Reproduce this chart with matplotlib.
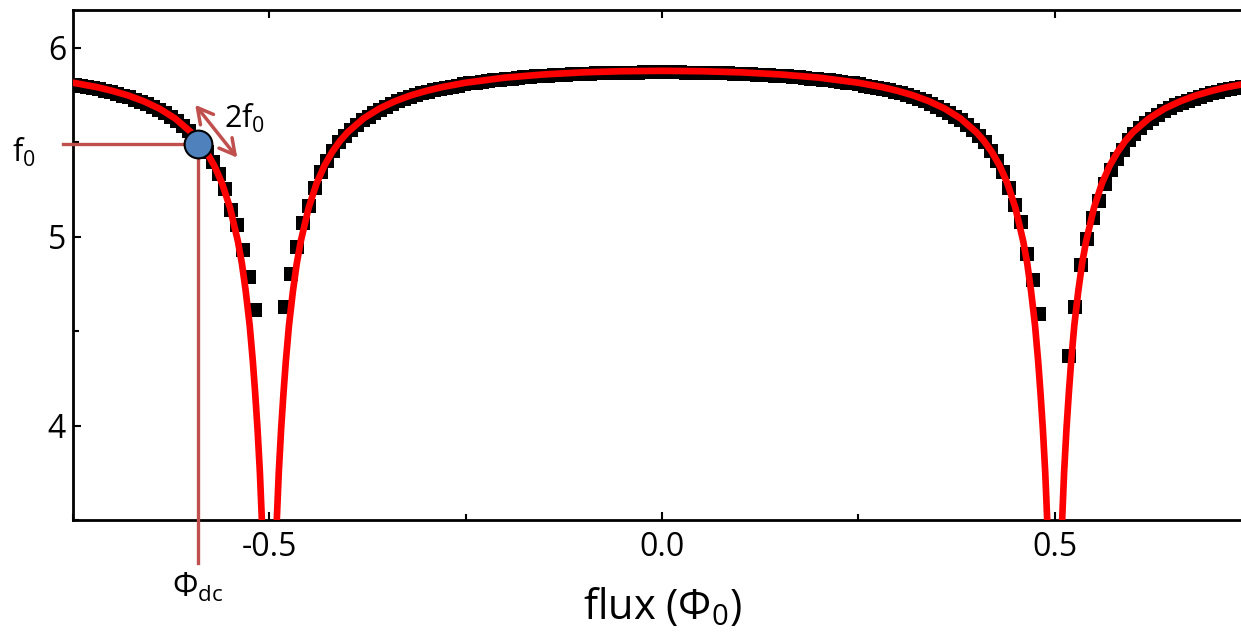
import numpy as np
import matplotlib
matplotlib.use("Agg")
import matplotlib.pyplot as plt

plt.rcParams["font.family"] = ["Open Sans", "DejaVu Sans"]
plt.rcParams["mathtext.default"] = "regular"
plt.rcParams["axes.unicode_minus"] = False

# measured resonance frequency (GHz), one value per step of the flux sweep;
# nan where no resonance was found close to the dips
sweep_start = -0.7471
sweep_step = 0.00762
measured_freq = [
    5.805, 5.80, 5.79, 5.787, 5.78, 5.773, 5.765, 5.757, 5.747, 5.738,
    5.726, 5.714, 5.701, 5.686, 5.671, 5.653, 5.634, 5.614, 5.585, 5.562,
    5.53, 5.495, 5.45, 5.395, 5.33, 5.25, 5.14, 5.06, 4.93, 4.785,
    4.61, np.nan, np.nan, np.nan, np.nan,
    4.63, 4.80, 4.945, 5.075, 5.16, 5.26, 5.34, 5.40, 5.455, 5.50,
    5.535, 5.565, 5.59, 5.617, 5.636, 5.655, 5.673, 5.689, 5.703, 5.716,
    5.728, 5.739, 5.749, 5.758, 5.767, 5.774, 5.782, 5.788, 5.794, 5.80,
    5.806,
    5.811, 5.816, 5.82, 5.824, 5.828, 5.831, 5.834, 5.837, 5.84, 5.843,
    5.845, 5.848, 5.85, 5.853, 5.855, 5.857, 5.858, 5.86, 5.861, 5.862,
    5.863, 5.864, 5.865, 5.866, 5.867, 5.868, 5.868, 5.869, 5.869, 5.87,
    5.87, 5.87, 5.87,
    5.87, 5.87, 5.87, 5.869, 5.869, 5.868, 5.868, 5.867, 5.866, 5.865,
    5.864, 5.863, 5.862, 5.861, 5.86, 5.858, 5.857, 5.855, 5.853, 5.85,
    5.848, 5.845, 5.843, 5.84, 5.837, 5.834, 5.831, 5.828, 5.824, 5.82,
    5.816, 5.811,
    5.806, 5.80, 5.794, 5.788, 5.782, 5.774, 5.767, 5.758, 5.749, 5.739,
    5.728, 5.716, 5.703, 5.689, 5.673, 5.655, 5.636, 5.617, 5.59, 5.565,
    5.535, 5.50, 5.455, 5.40, 5.34, 5.26, 5.17, 5.08, 4.91, 4.77,
    4.59, np.nan, np.nan, np.nan, np.nan,
    4.37, 4.63, 4.85, 4.99, 5.10, 5.19, 5.28, 5.355, 5.41, 5.46,
    5.51, 5.545, 5.575, 5.60, 5.625, 5.645, 5.665, 5.68, 5.695, 5.71,
    5.72, 5.73, 5.742, 5.752, 5.76, 5.768, 5.775, 5.782, 5.788, 5.795,
    5.80,
]

# fitted model curve
fit_flux = [
    -0.75, -0.72, -0.70, -0.68, -0.66, -0.64, -0.62, -0.60, -0.59, -0.58,
    -0.57, -0.56, -0.55, -0.54, -0.535, -0.53, -0.525, -0.521, -0.518, -0.515,
    -0.512, -0.5095, -0.507,
    -0.493, -0.4905, -0.488, -0.485, -0.482, -0.479, -0.475, -0.47, -0.465, -0.46,
    -0.45, -0.44, -0.43, -0.42, -0.41, -0.40, -0.38, -0.36, -0.34, -0.32,
    -0.30, -0.28, -0.25, -0.20, -0.15, -0.10, -0.05, 0.0,
    0.05, 0.10, 0.15, 0.20, 0.25, 0.28, 0.30, 0.32, 0.34, 0.36,
    0.38, 0.40, 0.41, 0.42, 0.43, 0.44, 0.45, 0.46, 0.465, 0.47,
    0.475, 0.479, 0.482, 0.485, 0.488, 0.4905, 0.493,
    0.507, 0.5095, 0.512, 0.515, 0.518, 0.521, 0.525, 0.53, 0.535, 0.54,
    0.55, 0.56, 0.57, 0.58, 0.59, 0.60, 0.62, 0.64, 0.66, 0.68,
    0.70, 0.72, 0.75,
]
fit_freq = [
    5.815, 5.792, 5.772, 5.748, 5.717, 5.678, 5.626, 5.554, 5.507, 5.448,
    5.375, 5.280, 5.152, 4.975, 4.86, 4.71, 4.53, 4.34, 4.17, 3.98,
    3.75, 3.5, 3.1,
    3.1, 3.5, 3.75, 3.98, 4.17, 4.34, 4.53, 4.71, 4.86, 4.975,
    5.152, 5.280, 5.375, 5.448, 5.507, 5.554, 5.626, 5.678, 5.717, 5.748,
    5.772, 5.792, 5.815, 5.842, 5.859, 5.870, 5.876, 5.878,
    5.876, 5.870, 5.859, 5.842, 5.815, 5.792, 5.772, 5.748, 5.717, 5.678,
    5.626, 5.554, 5.507, 5.448, 5.375, 5.280, 5.152, 4.975, 4.86, 4.71,
    4.53, 4.34, 4.17, 3.98, 3.75, 3.5, 3.1,
    3.1, 3.5, 3.75, 3.98, 4.17, 4.34, 4.53, 4.71, 4.86, 4.975,
    5.152, 5.280, 5.375, 5.448, 5.507, 5.554, 5.626, 5.678, 5.717, 5.748,
    5.772, 5.792, 5.815,
]

# operating point
flux_dc = -0.591
f0 = 5.49

guide = "#c0504d"

measured_flux = sweep_start + sweep_step * np.arange(len(measured_freq))

fig = plt.figure(figsize=(12.41, 6.36), dpi=100)
ax = fig.add_axes([73 / 1241, 116 / 636, 1178 / 1241, 510 / 636])

ax.plot(measured_flux, np.array(measured_freq, dtype=float), "s", color="k",
        ms=10.5, mew=0, zorder=2)
ax.plot(fit_flux, fit_freq, color="#ff0000", lw=4.8, zorder=3)

# guide lines from the operating point to the axes
ax.plot([-0.7628, flux_dc], [f0, f0], color=guide, lw=2.4, zorder=4, clip_on=False)
ax.plot([flux_dc, flux_dc], [f0, 3.27], color=guide, lw=2.4, zorder=4, clip_on=False)
ax.plot(flux_dc, f0, "o", ms=20, mfc="#4f81bd", mec="k", mew=1.5, zorder=5)

ax.annotate("", xy=(-0.5944, 5.698), xytext=(-0.5408, 5.418),
            arrowprops=dict(arrowstyle="<->,head_length=0.55,head_width=0.3",
                            color=guide, lw=2.5, mutation_scale=20,
                            shrinkA=0, shrinkB=0), zorder=6)

ax.text(-0.5574, 5.624, "2f$_0$", fontsize=22, va="center", ha="left")
ax.text(-0.8278, 5.444, "f$_0$", fontsize=22, va="center", ha="left")
ax.text(-0.6237, 3.138, "Φ$_{dc}$", fontsize=23, va="center", ha="left")

ax.set_xlim(-0.75, 0.75)
ax.set_ylim(3.5, 6.2)
ax.set_xticks([-0.5, 0.0, 0.5])
ax.set_xticklabels(["-0.5", "0.0", "0.5"])
ax.set_xticks([-0.75, -0.25, 0.25, 0.75], minor=True)
ax.set_yticks([4, 5, 6])
ax.set_yticks([3.5, 4.5, 5.5], minor=True)

ax.tick_params(axis="x", which="major", direction="in", top=True, length=6,
               width=1.5, labelsize=23, pad=8)
ax.tick_params(axis="x", which="minor", direction="in", top=False, length=4,
               width=1.5)
ax.tick_params(axis="y", which="major", direction="in", right=False, length=6,
               width=1.5, labelsize=23, pad=5)
ax.tick_params(axis="y", which="minor", direction="in", right=False, length=4,
               width=1.5)

for side in ["left", "bottom", "top"]:
    ax.spines[side].set_linewidth(2)
ax.spines["right"].set_visible(False)

ax.set_xlabel("flux (Φ$_0$)", fontsize=30, labelpad=16)

fig.savefig("out.png", dpi=100)
